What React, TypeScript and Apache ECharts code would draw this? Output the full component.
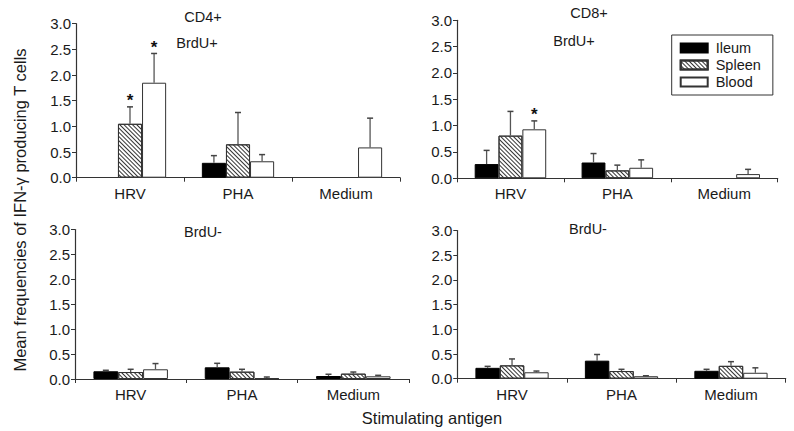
import React, { useEffect, useRef } from "react";
import * as echarts from "echarts";

const categories = ["HRV", "PHA", "Medium"];
const yTicks = [0, 0.5, 1.0, 1.5, 2.0, 2.5, 3.0];

// CD4+ BrdU+
const cd4PosIleum = [null, 0.29, null];
const cd4PosIleumErr = [0, 0.14, 0];
const cd4PosSpleen = [1.05, 0.65, null];
const cd4PosSpleenErr = [0.33, 0.62, 0];
const cd4PosBlood = [1.85, 0.32, 0.59];
const cd4PosBloodErr = [0.57, 0.13, 0.57];
const cd4PosSig = [[0, 0, 0], [1, 0, 0], [1, 0, 0]]; // [series][category]

// CD8+ BrdU+
const cd8PosIleum = [0.27, 0.3, null];
const cd8PosIleumErr = [0.26, 0.17, 0];
const cd8PosSpleen = [0.81, 0.15, null];
const cd8PosSpleenErr = [0.46, 0.1, 0];
const cd8PosBlood = [0.93, 0.2, 0.08];
const cd8PosBloodErr = [0.16, 0.15, 0.09];
const cd8PosSig = [[0, 0, 0], [0, 0, 0], [1, 0, 0]];

// CD4+ BrdU-
const cd4NegIleum = [0.155, 0.235, 0.06];
const cd4NegIleumErr = [0.02, 0.08, 0.035];
const cd4NegSpleen = [0.14, 0.147, 0.107];
const cd4NegSpleenErr = [0.055, 0.048, 0.033];
const cd4NegBlood = [0.195, 0.02, 0.054];
const cd4NegBloodErr = [0.115, 0.02, 0.02];

// CD8+ BrdU-
const cd8NegIleum = [0.22, 0.365, 0.16];
const cd8NegIleumErr = [0.03, 0.125, 0.03];
const cd8NegSpleen = [0.27, 0.155, 0.26];
const cd8NegSpleenErr = [0.13, 0.035, 0.085];
const cd8NegBlood = [0.13, 0.05, 0.12];
const cd8NegBloodErr = [0.025, 0.01, 0.1];

const noSig = [[0, 0, 0], [0, 0, 0], [0, 0, 0]];
const seriesNames = ["Ileum", "Spleen", "Blood"];

const panels = [
  { values: [cd4PosIleum, cd4PosSpleen, cd4PosBlood], errs: [cd4PosIleumErr, cd4PosSpleenErr, cd4PosBloodErr], sig: cd4PosSig },
  { values: [cd8PosIleum, cd8PosSpleen, cd8PosBlood], errs: [cd8PosIleumErr, cd8PosSpleenErr, cd8PosBloodErr], sig: cd8PosSig },
  { values: [cd4NegIleum, cd4NegSpleen, cd4NegBlood], errs: [cd4NegIleumErr, cd4NegSpleenErr, cd4NegBloodErr], sig: noSig },
  { values: [cd8NegIleum, cd8NegSpleen, cd8NegBlood], errs: [cd8NegIleumErr, cd8NegSpleenErr, cd8NegBloodErr], sig: noSig },
];

const FONT = "Liberation Sans, Arial, Helvetica, sans-serif";
const TEXT = "#1a1a1a";
const AXIS = "#333";
const BAR_FRAC = 0.223;

const gridsLayout = [
  { left: 76, top: 23.7, width: 324, height: 154 },
  { left: 457, top: 20.3, width: 320.7, height: 158 },
  { left: 75, top: 229.6, width: 334, height: 149.4 },
  { left: 457.3, top: 230.5, width: 328.4, height: 148.2 },
];

const barStyles = [
  { color: "#000", borderColor: "#000", borderWidth: 1 },
  {
    color: "#fff",
    borderColor: "#333",
    borderWidth: 1,
    decal: {
      symbol: "rect",
      symbolSize: 1,
      color: "#333",
      dashArrayX: [1, 0],
      dashArrayY: [1, 2],
      rotation: Math.PI / 4,
    },
  },
  { color: "#fff", borderColor: "#333", borderWidth: 1 },
];

function buildOption() {
  const series: any[] = [];
  panels.forEach((p, gi) => {
    p.values.forEach((vals, si) => {
      series.push({
        type: "bar",
        name: seriesNames[si],
        xAxisIndex: gi,
        yAxisIndex: gi,
        data: vals,
        barWidth: BAR_FRAC * 100 + "%",
        barGap: "0%",
        itemStyle: barStyles[si],
        emphasis: { disabled: true },
      });
    });
    p.values.forEach((vals, si) => {
      const data = vals.map((v, ci) => [ci, v == null ? null : v, p.errs[si][ci], p.sig[si][ci]]);
      const off = si - 1;
      series.push({
        type: "custom",
        name: "err" + gi + si,
        xAxisIndex: gi,
        yAxisIndex: gi,
        z: 5,
        encode: { x: 0, y: 1 },
        data,
        renderItem: (params: any, api: any) => {
          const idx = api.value(0);
          const v = api.value(1);
          const e = api.value(2);
          const s = api.value(3);
          if (v == null || isNaN(v) || !(e > 0)) return null;
          const base = api.coord([idx, v]);
          const top = api.coord([idx, v + e]);
          const band = api.size([1, 0])[0];
          const bw = band * BAR_FRAC;
          const cx = base[0] + off * bw;
          const children: any[] = [
            { type: "line", shape: { x1: cx, y1: base[1], x2: cx, y2: top[1] }, style: { stroke: "#555", lineWidth: 1.3 } },
            { type: "line", shape: { x1: cx - 3, y1: top[1], x2: cx + 3, y2: top[1] }, style: { stroke: "#444", lineWidth: 1.5 } },
          ];
          if (s) {
            children.push({
              type: "text",
              x: cx,
              y: top[1] + 2.5,
              style: { text: "*", fontSize: 17, fontWeight: "bold", fontFamily: FONT, fill: "#111", align: "center", verticalAlign: "bottom" },
            });
          }
          return { type: "group", children };
        },
      });
    });
  });

  const ann = (text: string, x: number, y: number) => ({
    type: "text",
    x,
    y,
    style: { text, fontSize: 14.5, fontFamily: FONT, fill: TEXT, align: "center", verticalAlign: "middle" },
  });

  return {
    animation: false,
    backgroundColor: "#fff",
    grid: gridsLayout.map((g) => ({ ...g, containLabel: false })),
    legend: {
      data: seriesNames,
      orient: "vertical",
      left: 671.7,
      top: 35,
      padding: [5, 12, 5, 8],
      itemWidth: 27,
      itemHeight: 9,
      itemGap: 1,
      icon: "rect",
      borderColor: "#333",
      borderWidth: 1,
      selectedMode: false,
      textStyle: { fontSize: 14.5, fontFamily: FONT, color: TEXT, lineHeight: 16, padding: [0, 0, 0, 3] },
    },
    xAxis: gridsLayout.map((_, gi) => ({
      type: "category",
      gridIndex: gi,
      data: categories,
      axisLine: { lineStyle: { color: AXIS, width: 1.2 } },
      axisTick: { show: true, length: 4, lineStyle: { color: AXIS } },
      axisLabel: { fontSize: 15, fontFamily: FONT, color: TEXT, margin: 8 },
    })),
    yAxis: gridsLayout.map((_, gi) => ({
      type: "value",
      gridIndex: gi,
      min: yTicks[0],
      max: yTicks[yTicks.length - 1],
      interval: 0.5,
      axisLine: { show: true, lineStyle: { color: AXIS, width: 1.2 } },
      axisTick: { show: true, length: 4, lineStyle: { color: AXIS } },
      splitLine: { show: false },
      axisLabel: { fontSize: 15, fontFamily: FONT, color: TEXT, margin: 5, formatter: (v: number) => v.toFixed(1) },
    })),
    graphic: [
      ann("CD4+", 203, 17),
      ann("BrdU+", 197, 43),
      ann("CD8+", 589, 13),
      ann("BrdU+", 574, 41),
      ann("BrdU-", 203, 232),
      ann("BrdU-", 588, 229),
      {
        type: "text",
        x: 20,
        y: 210,
        rotation: Math.PI / 2,
        style: { text: "Mean frequencies of IFN-\u03b3 producing T cells", fontSize: 16.5, fontFamily: FONT, fill: TEXT, align: "center", verticalAlign: "middle" },
      },
      { type: "text", x: 432, y: 418, style: { text: "Stimulating antigen", fontSize: 16.5, fontFamily: FONT, fill: TEXT, align: "center", verticalAlign: "middle" } },
    ],
    series,
  };
}

export default function App() {
  const ref = useRef<HTMLDivElement>(null);
  useEffect(() => {
    if (!ref.current) return;
    const chart = echarts.init(ref.current, undefined, { renderer: "svg" });
    chart.setOption(buildOption() as any);
    return () => chart.dispose();
  }, []);
  return <div ref={ref} style={{ position: "fixed", left: 0, top: 0, width: 794, height: 431 }} />;
}
